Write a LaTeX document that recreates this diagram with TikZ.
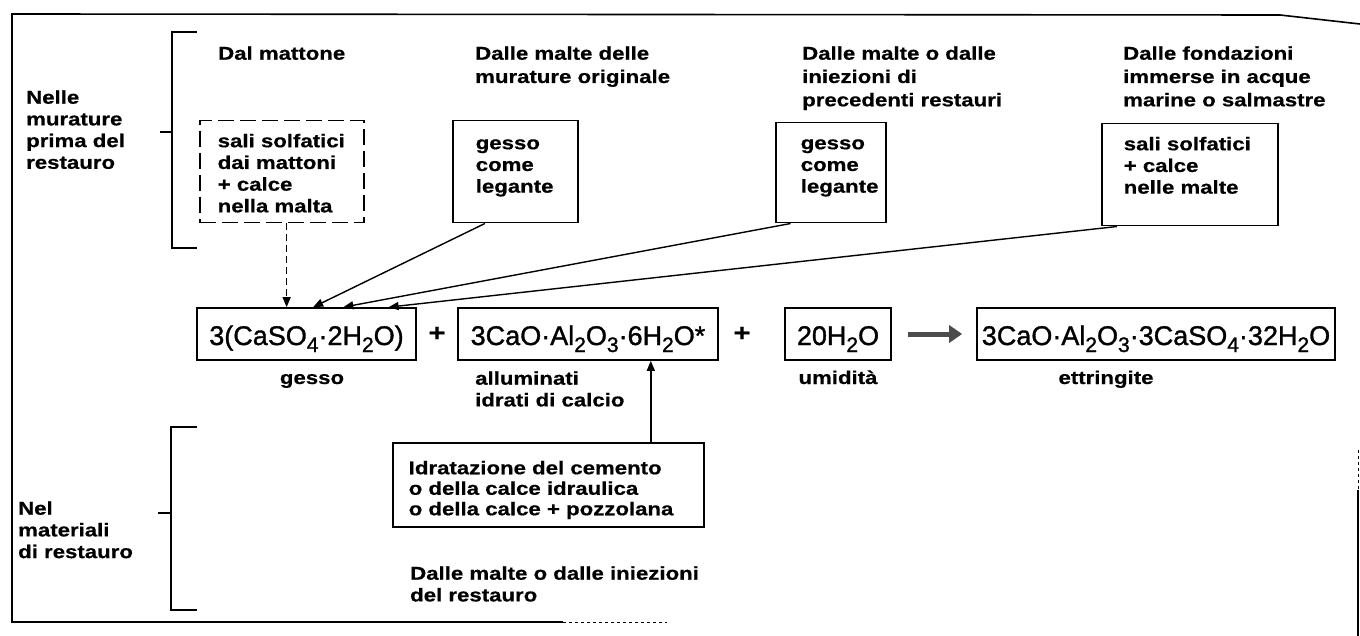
\documentclass[tikz,border=0pt]{standalone}
\usepackage{fontspec}
\setmainfont{Liberation Sans}
\newfontfamily\labfont[FakeStretch=1.2,FakeBold=0.6]{Liberation Sans}
\newfontfamily\chemfont[FakeBold=1.2]{Liberation Sans}
\usetikzlibrary{arrows.meta,calc}
\newcommand\ts{\rule{0pt}{13.5pt}}
\newcommand\chsb[1]{\raisebox{-7pt}{\fontsize{21}{21}\selectfont #1}}
\newcommand\bxt[5]{\parbox[c][#2pt][t]{#1pt}{\vspace*{#4pt}\leftskip=#3pt\relax\ts #5\par}}
\tikzset{
  lab/.style={font=\labfont\bfseries\fontsize{18.5}{21.7}\selectfont, inner sep=0pt, anchor=north west, align=left},
  hdr/.style={lab, font=\labfont\bfseries\fontsize{18.5}{23.3}\selectfont},
  srcbox/.style={draw, line width=1.5pt, inner sep=0pt, anchor=north west, font=\labfont\bfseries\fontsize{18.5}{21.7}\selectfont},
  chem/.style={draw, line width=1.7pt, minimum height=52pt, inner sep=0pt, text height=22pt, text depth=0pt, font=\chemfont\fontsize{27}{27}\selectfont},
  plus/.style={inner sep=0pt, font=\labfont\bfseries\fontsize{24}{24}\selectfont},
  arr/.style={line width=1.4pt, -{Triangle[length=10pt,width=8pt]}},
  rxn/.style={line width=5pt, draw=black!70, -{Triangle[length=13pt,width=17pt]}, shorten <=16pt, shorten >=14pt},
  brk/.style={line width=1.3pt},
  frame/.style={line width=1.6pt},
}
\begin{document}
\begin{tikzpicture}[x=1pt,y=-1pt]
\useasboundingbox (0,0) rectangle (1360,636);

% frame
\draw[frame] (1360,24) -- (1280,15) -- (12,14) -- (12,622) -- (563,622);
\draw[line width=0.8pt, dashed] (563,622) -- (667,622);
\draw[line width=1pt, dashed] (1358,450) -- (1358,490);
\draw[line width=1.2pt] (1358,490) -- (1358,636);

% left labels and brackets
\node[lab] (nelle) at (26,90) {\ts Nelle\\murature\\prima del\\restauro};
\node[lab] (nel) at (18,501) {\ts Nel\\materiali\\di restauro};
\draw[brk] (197,32) -- (172,32) -- (172,248) -- (197,248);
\draw[brk] (160,132) -- (172,132);
\draw[brk] (197,427) -- (171,427) -- (171,610) -- (197,610);
\draw[brk] (158,513) -- (171,513);

% headers
\node[hdr] (h1) at (218,46) {\ts Dal mattone};
\node[hdr] (h2) at (475,46) {\ts Dalle malte delle\\murature originale};
\node[hdr] (h3) at (802,46) {\ts Dalle malte o dalle\\iniezioni di\\precedenti restauri};
\node[hdr] (h4) at (1123,46) {\ts Dalle fondazioni\\immerse in acque\\marine o salmastre};

% source boxes
\node[srcbox, dash pattern=on 16pt off 6pt] (b0) at (199,120) {\bxt{164}{102}{18}{13}{sali solfatici\\dai mattoni\\+ calce\\nella malta}};
\node[srcbox] (b1) at (452,120) {\bxt{125}{102}{23}{15}{gesso\\come\\legante}};
\node[srcbox] (b3) at (775,122) {\bxt{110}{100}{25}{13}{gesso\\come\\legante}};
\node[srcbox] (b4) at (1101,123) {\bxt{176}{102}{22}{13}{sali solfatici\\+ calce\\nelle malte}};

% reaction row
\node[chem, minimum width=219pt] (gesso) at (306.5,334) {3(CaSO\chsb{4}·2H\chsb{2}O)};
\node[plus] (p1) at (437,334) {+};
\node[chem, minimum width=260pt] (alum) at (588,334) {3CaO·Al\chsb{2}O\chsb{3}·6H\chsb{2}O*};
\node[plus] (p2) at (742,334) {+};
\node[chem, minimum width=106pt] (water) at (838,334) {20H\chsb{2}O};
\node[chem, minimum width=358pt] (ett) at (1156,334) {3CaO·Al\chsb{2}O\chsb{3}·3CaSO\chsb{4}·32H\chsb{2}O};

\node[lab, anchor=base] (lg) at (312,384) {gesso};
\node[lab] (la) at (475,371) {\ts alluminati\\idrati di calcio};
\node[lab, anchor=base] (lw) at (838,384) {umidità};
\node[lab, anchor=base] (le) at (1106,384) {ettringite};

% restoration materials
\node[srcbox, font=\labfont\bfseries\fontsize{18.5}{20.5}\selectfont] (idr) at (392,442) {\bxt{311}{84}{16}{18}{Idratazione del cemento\\o della calce idraulica\\o della calce + pozzolana}};
\node[lab] (rest) at (410,566) {\ts Dalle malte o dalle iniezioni\\del restauro};

% connectors
\coordinate (g1) at ($(gesso.north west)!0.41!(gesso.north east)$);
\coordinate (g2) at ($(gesso.north west)!0.53!(gesso.north east)$);
\coordinate (g3) at ($(gesso.north west)!0.667!(gesso.north east)$);
\coordinate (g4) at ($(gesso.north west)!0.872!(gesso.north east)$);
\coordinate (a1) at ($(alum.south west)!0.74!(alum.south east)$);

\draw[arr, dash pattern=on 7pt off 4pt] (g1 |- b0.south) -- (g1);
\draw[arr] ($(b1.south west)!0.26!(b1.south east)$) -- (g2);
\draw[arr] ($(b3.south west)!0.14!(b3.south east)$) -- (g3);
\draw[arr] ($(b4.south west)!0.09!(b4.south east)$) -- (g4);
\draw[arr] (a1 |- idr.north) -- (a1);
\draw[rxn] (water.east) -- (ett.west);
\end{tikzpicture}
\end{document}
